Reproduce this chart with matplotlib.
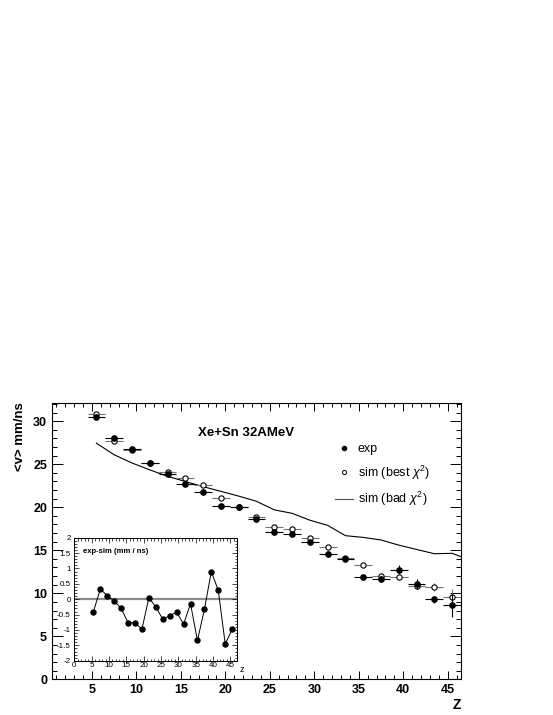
import matplotlib
matplotlib.use('Agg')
import matplotlib.pyplot as plt
from matplotlib.ticker import MultipleLocator
from matplotlib.lines import Line2D

plt.rcParams['font.family'] = ['Liberation Sans', 'DejaVu Sans']
plt.rcParams['mathtext.fontset'] = 'custom'
plt.rcParams['mathtext.rm'] = 'Liberation Sans'
plt.rcParams['mathtext.it'] = 'Liberation Sans:italic'

# mean velocity vs Z
Z = [5.5, 7.5, 9.5, 11.5, 13.5, 15.5, 17.5, 19.5, 21.5, 23.5, 25.5,
     27.5, 29.5, 31.5, 33.5, 35.5, 37.5, 39.5, 41.5, 43.5, 45.5]
v_exp = [30.47, 28.09, 26.82, 25.12, 23.84, 22.67, 21.78, 20.15, 20.03, 18.60, 17.07,
         16.90, 16.00, 14.55, 14.00, 11.90, 11.70, 12.75, 11.12, 9.30, 8.60]
v_exp_err = [0.05, 0.05, 0.05, 0.05, 0.05, 0.05, 0.05, 0.05, 0.05, 0.08, 0.1,
             0.1, 0.1, 0.12, 0.15, 0.25, 0.35, 0.55, 0.6, 0.4, 1.3]
v_sim = [30.88, 27.75, 26.71, 25.17, 24.14, 23.43, 22.56, 21.12, 19.98, 18.85, 17.72,
         17.43, 16.42, 15.36, 14.15, 13.29, 12.03, 11.85, 10.83, 10.75, 9.58]
v_sim_err = [0.05, 0.05, 0.05, 0.05, 0.05, 0.05, 0.05, 0.05, 0.05, 0.08, 0.1,
             0.1, 0.1, 0.12, 0.15, 0.2, 0.25, 0.3, 0.35, 0.5, 0.9]
z_err = 1.0

# bad chi2 simulation (line)
Z_bad = [5.5, 7.5, 9.5, 11.5, 13.5, 15.5, 17.5, 19.5, 21.5, 23.5, 25.5,
         27.5, 29.5, 31.5, 33.5, 35.5, 37.5, 39.5, 41.5, 43.5, 45.5, 47.5]
v_bad = [27.45, 26.1, 25.15, 24.35, 23.6, 23.0, 22.4, 21.85, 21.3, 20.7, 19.7,
         19.3, 18.5, 17.9, 16.7, 16.5, 16.2, 15.6, 15.1, 14.6, 14.65, 13.87]

# inset: exp - sim
diff = [-0.41, 0.34, 0.11, -0.05, -0.30, -0.76, -0.78, -0.97, 0.05, -0.25, -0.65,
        -0.53, -0.42, -0.81, -0.15, -1.34, -0.33, 0.90, 0.29, -1.45, -0.98]

fig = plt.figure(figsize=(5.53, 7.15), dpi=100)
ax = fig.add_axes([0.0940, 0.0499, 0.7396, 0.3869])

ax.plot(Z_bad, v_bad, color='black', lw=0.8)
ax.errorbar(Z, v_sim, xerr=z_err, yerr=v_sim_err, fmt='o', ms=3.8, mfc='white',
            mec='black', mew=0.8, ecolor='0.45', elinewidth=0.8, capsize=0,
            zorder=3)
ax.errorbar(Z, v_exp, xerr=z_err, yerr=v_exp_err, fmt='o', ms=3.8, mfc='black',
            mec='black', ecolor='black', elinewidth=0.8, capsize=0, zorder=4)

ax.set_xlim(0.5, 46.5)
ax.set_ylim(0, 32.16)
ax.xaxis.set_major_locator(MultipleLocator(5))
ax.xaxis.set_minor_locator(MultipleLocator(1))
ax.yaxis.set_major_locator(MultipleLocator(5))
ax.yaxis.set_minor_locator(MultipleLocator(1))
ax.set_xticks([5, 10, 15, 20, 25, 30, 35, 40, 45])
ax.tick_params(which='both', direction='in', top=True, right=True, width=0.7)
ax.tick_params(axis='x', which='major', length=5.8, pad=3.5)
ax.tick_params(axis='x', which='minor', length=2.9)
ax.tick_params(axis='y', which='major', length=8, pad=3.5)
ax.tick_params(axis='y', which='minor', length=3.6)
for lab in ax.get_xticklabels() + ax.get_yticklabels():
    lab.set_fontweight('bold')
    lab.set_fontsize(9)
for sp in ax.spines.values():
    sp.set_linewidth(0.8)

ax.text(0.989, -0.093, 'Z', transform=ax.transAxes, ha='center', va='center',
        fontsize=10, fontweight='bold')
ax.text(-0.078, 1.0, '<v> mm/ns', transform=ax.transAxes, ha='center', va='top',
        rotation=90, fontsize=9.5, fontweight='bold')
ax.text(0.474, 0.889, 'Xe+Sn 32AMeV', transform=ax.transAxes, ha='center',
        va='center', fontsize=9.5, fontweight='bold')

# legend with plain marker handles
h_exp = Line2D([], [], ls='none', marker='o', ms=3, mfc='black', mec='black')
h_sim = Line2D([], [], ls='none', marker='o', ms=3, mfc='white', mec='black', mew=0.7)
h_bad = Line2D([], [], color='0.3', lw=0.8)
ax.legend([h_exp, h_sim, h_bad], ['exp', r'sim (best $\chi^2$)', r'sim (bad $\chi^2$)'],
          loc='upper left', bbox_to_anchor=(0.68, 0.872), frameon=False,
          fontsize=9, handlelength=1.4, handletextpad=0.4,
          labelspacing=0.68, borderaxespad=0)

# inset
ins = fig.add_axes([0.1344, 0.0759, 0.2948, 0.1720])
ins.axhline(0, color='0.55', lw=1.6, zorder=1)
ins.plot(Z, diff, '-o', color='black', lw=0.7, ms=3.6, zorder=3)
ins.set_xlim(0, 47)
ins.set_ylim(-2, 2)
ins.xaxis.set_major_locator(MultipleLocator(5))
ins.xaxis.set_minor_locator(MultipleLocator(1))
ins.yaxis.set_major_locator(MultipleLocator(0.5))
ins.yaxis.set_minor_locator(MultipleLocator(0.1))
ins.tick_params(which='both', direction='in', top=True, right=True, width=0.5,
                labelsize=5.8)
ins.tick_params(which='major', length=3.5)
ins.tick_params(which='minor', length=1.8)
ins.tick_params(axis='x', pad=1)
ins.tick_params(axis='y', pad=2.5)
ins.set_yticks([-2, -1.5, -1, -0.5, 0, 0.5, 1, 1.5, 2])
ins.set_yticklabels(['-2', '-1.5', '-1', '-0.5', '0', '0.5', '1', '1.5', '2'])
for sp in ins.spines.values():
    sp.set_linewidth(0.7)
ins.text(0.055, 0.886, 'exp-sim (mm / ns)', transform=ins.transAxes, ha='left',
         va='center', fontsize=5.5, fontweight='bold')
ins.text(1.025, -0.07, 'z', transform=ins.transAxes, ha='center', va='center',
         fontsize=6.5)

fig.savefig('out.png', dpi=100)
